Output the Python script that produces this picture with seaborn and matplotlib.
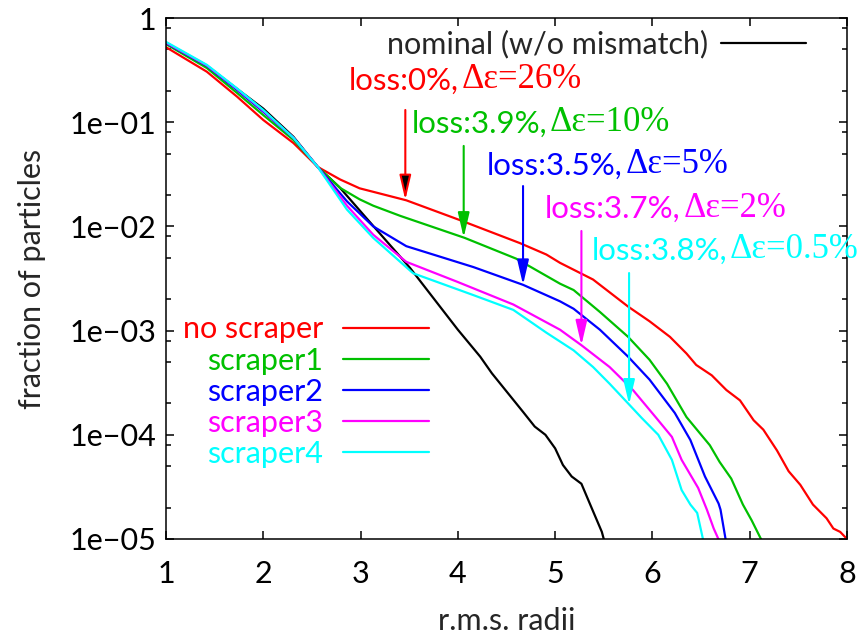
import numpy as np
import seaborn as sns
import matplotlib.pyplot as plt
from matplotlib.ticker import LogLocator, NullFormatter, NullLocator

# r.m.s. radius vs fraction of particles outside it
x_nominal = [1.0, 1.42, 1.73, 2.0, 2.31, 2.56, 2.79, 3.06, 3.51, 4.0, 4.23, 4.35,
             4.67, 4.79, 4.90, 5.0, 5.08, 5.17, 5.27, 5.37, 5.48, 5.52]
y_nominal = [0.575, 0.347, 0.209, 0.135, 0.0724, 0.0372, 0.0234, 0.0120, 0.00398,
             1.02e-3, 5.62e-4, 3.89e-4, 1.66e-4, 1.20e-4, 1.0e-4, 7.41e-5, 5.13e-5,
             3.98e-5, 3.39e-5, 2.04e-5, 1.17e-5, 8.5e-6]

x_noscr = [1.0, 1.42, 1.73, 2.0, 2.31, 2.56, 2.79, 2.99, 3.47, 4.02, 4.64, 4.91, 5.05,
           5.39, 5.75, 5.97, 6.18, 6.35, 6.45, 6.61, 6.76, 6.9, 7.04, 7.14, 7.28, 7.40,
           7.52, 7.65, 7.79, 7.86, 7.93, 8.0]
y_noscr = [0.525, 0.305, 0.176, 0.105, 0.0631, 0.0372, 0.0282, 0.0232, 0.0178, 0.0115,
           6.9e-3, 5.37e-3, 4.47e-3, 3.09e-3, 1.70e-3, 1.23e-3, 8.71e-4, 6.03e-4,
           4.68e-4, 3.72e-4, 2.69e-4, 2.14e-4, 1.38e-4, 1.12e-4, 7.08e-5, 4.47e-5,
           3.31e-5, 2.14e-5, 1.58e-5, 1.26e-5, 1.17e-5, 1.0e-5]

x_scr1 = [1.0, 1.42, 1.73, 2.0, 2.31, 2.56, 2.79, 2.99, 3.13, 3.41, 4.07, 4.6, 5.05,
          5.19, 5.46, 5.75, 5.97, 6.15, 6.35, 6.59, 6.69, 6.81, 6.93, 7.02, 7.14]
y_scr1 = [0.562, 0.331, 0.191, 0.117, 0.0676, 0.0372, 0.0234, 0.0182, 0.0158, 0.0126,
          7.76e-3, 4.90e-3, 2.82e-3, 2.45e-3, 1.51e-3, 8.71e-4, 5.25e-4, 3.09e-4,
          1.48e-4, 7.94e-5, 5.50e-5, 3.80e-5, 2.14e-5, 1.51e-5, 9.0e-6]

x_scr2 = [1.0, 1.42, 1.73, 2.0, 2.31, 2.56, 2.86, 3.13, 3.47, 4.16, 4.67, 5.05, 5.19,
          5.46, 5.75, 5.97, 6.23, 6.39, 6.54, 6.68, 6.70, 6.76]
y_scr2 = [0.575, 0.347, 0.204, 0.126, 0.0708, 0.0372, 0.0174, 0.0100, 6.46e-3, 4.07e-3,
          2.75e-3, 1.91e-3, 1.62e-3, 1.02e-3, 5.62e-4, 3.39e-4, 1.62e-4, 8.91e-5,
          3.98e-5, 2.19e-5, 1.91e-5, 9.0e-6]

x_scr3 = [1.0, 1.42, 1.73, 2.0, 2.31, 2.56, 2.86, 3.13, 3.47, 3.99, 4.57, 5.05, 5.27,
          5.56, 5.80, 6.04, 6.20, 6.30, 6.47, 6.56, 6.63, 6.70]
y_scr3 = [0.582, 0.351, 0.209, 0.129, 0.0708, 0.0372, 0.0158, 8.32e-3, 4.57e-3, 2.95e-3,
          1.78e-3, 1.02e-3, 7.24e-4, 4.47e-4, 2.69e-4, 1.45e-4, 9.55e-5, 5.75e-5,
          3.09e-5, 1.91e-5, 1.26e-5, 9.0e-6]

x_scr4 = [1.0, 1.42, 1.73, 2.0, 2.31, 2.56, 2.86, 3.13, 3.54, 4.16, 4.57, 4.91, 5.19,
          5.39, 5.56, 5.75, 5.89, 6.06, 6.20, 6.30, 6.39, 6.46, 6.53]
y_scr4 = [0.59, 0.355, 0.211, 0.131, 0.0708, 0.0372, 0.0145, 7.76e-3, 3.55e-3, 2.19e-3,
          1.58e-3, 9.55e-4, 6.46e-4, 4.47e-4, 3.09e-4, 2.00e-4, 1.45e-4, 1.0e-4,
          5.75e-5, 2.95e-5, 2.14e-5, 1.78e-5, 9.0e-6]

series_names = ['no scraper', 'scraper1', 'scraper2', 'scraper3', 'scraper4']
series_colors = ['#ff0000', '#00c000', '#0000ff', '#ff00ff', '#00ffff']
series_x = [x_noscr, x_scr1, x_scr2, x_scr3, x_scr4]
series_y = [y_noscr, y_scr1, y_scr2, y_scr3, y_scr4]

# annotations: beam loss and emittance growth per case
loss_text = ['loss:0%,', 'loss:3.9%,', 'loss:3.5%,', 'loss:3.7%,', 'loss:3.8%,']
emit_text = ['Δε=26%', 'Δε=10%', 'Δε=5%', 'Δε=2%', 'Δε=0.5%']
arrow_x = [3.46, 4.06, 4.67, 5.27, 5.76]
arrow_top = [0.131, 0.0592, 0.0244, 0.00904, 0.00357]
text_pos = [(2.88, 0.204), (3.525, 0.0788), (4.296, 0.0311), (4.895, 0.0120), (5.375, 0.00481)]

sns.set_theme(style='ticks')
plt.rcParams['font.family'] = ['Lato', 'DejaVu Sans']
plt.rcParams['axes.edgecolor'] = 'black'
plt.rcParams['axes.linewidth'] = 1.1

fig = plt.figure(figsize=(8.59, 6.37), dpi=100)
ax = fig.add_axes([166 / 859, 1 - 539 / 637, 681 / 859, 521 / 637])
ax.set_yscale('log')

sns.lineplot(x=x_nominal, y=y_nominal, color='black', lw=1.6, ax=ax, sort=False, estimator=None)
line_nominal = ax.lines[-1]
handles = []
for xs, ys, col in zip(series_x, series_y, series_colors):
    sns.lineplot(x=xs, y=ys, color=col, lw=1.6, ax=ax, sort=False, estimator=None)
    handles.append(ax.lines[-1])

ax.set_xlim(1, 8)
ax.set_ylim(1e-5, 1)
ax.set_xticks(range(1, 9))
ax.set_xticklabels([str(i) for i in range(1, 9)])
ax.xaxis.set_minor_locator(NullLocator())
ax.set_yticks([1e-5, 1e-4, 1e-3, 1e-2, 1e-1, 1],
              ['1e−05', '1e−04', '1e−03', '1e−02', '1e−01', '1'])
ax.yaxis.set_minor_locator(LogLocator(base=10, subs=[2, 5, 8]))
ax.yaxis.set_minor_formatter(NullFormatter())
ax.tick_params(which='both', direction='in', top=True, right=True, width=1.1,
               colors='black', labelsize=22)
ax.tick_params(which='major', length=6)
ax.tick_params(which='minor', length=3.5)
ax.tick_params(axis='y', pad=7)
ax.tick_params(axis='x', pad=15)
for s in ax.spines.values():
    s.set_visible(True)
    s.set_color('black')

ax.set_xlabel('r.m.s. radii', fontsize=22, labelpad=14)
ax.set_ylabel('fraction of particles', fontsize=22, labelpad=17)

# arrows pointing at each curve, with loss / emittance growth labels
for i in range(5):
    col = series_colors[i]
    tip = 10 ** np.interp(arrow_x[i], series_x[i], np.log10(series_y[i]))
    face = 'black' if i == 0 else col
    ax.annotate('', xy=(arrow_x[i], tip), xytext=(arrow_x[i], arrow_top[i]),
                arrowprops=dict(arrowstyle='-|>,head_length=1.5,head_width=0.35',
                                ec=col, fc=face, lw=1.5, shrinkA=0, shrinkB=0,
                                mutation_scale=10))
    t1 = ax.text(text_pos[i][0], text_pos[i][1], loss_text[i], color=col, fontsize=22.5,
                 ha='left', va='baseline')
    ax.annotate(emit_text[i], xy=(1, 0), xycoords=t1, xytext=(2, -1),
                textcoords='offset points', color=col, fontsize=25,
                family=['Liberation Serif', 'DejaVu Serif'], ha='left', va='bottom')

leg1 = ax.legend([line_nominal], ['nominal (w/o mismatch)'], loc='center right',
                 bbox_to_anchor=(0.940, 0.950), frameon=False, markerfirst=False,
                 handlelength=2.8, handletextpad=0.4, borderpad=0, borderaxespad=0,
                 fontsize=22)
ax.add_artist(leg1)
ax.legend(handles, series_names, loc='center right', bbox_to_anchor=(0.386, 0.283),
          frameon=False, markerfirst=False, labelcolor='linecolor', handlelength=2.8,
          handletextpad=0.66, labelspacing=0.1, borderpad=0, borderaxespad=0, fontsize=22)

fig.savefig('out.png', dpi=100)
